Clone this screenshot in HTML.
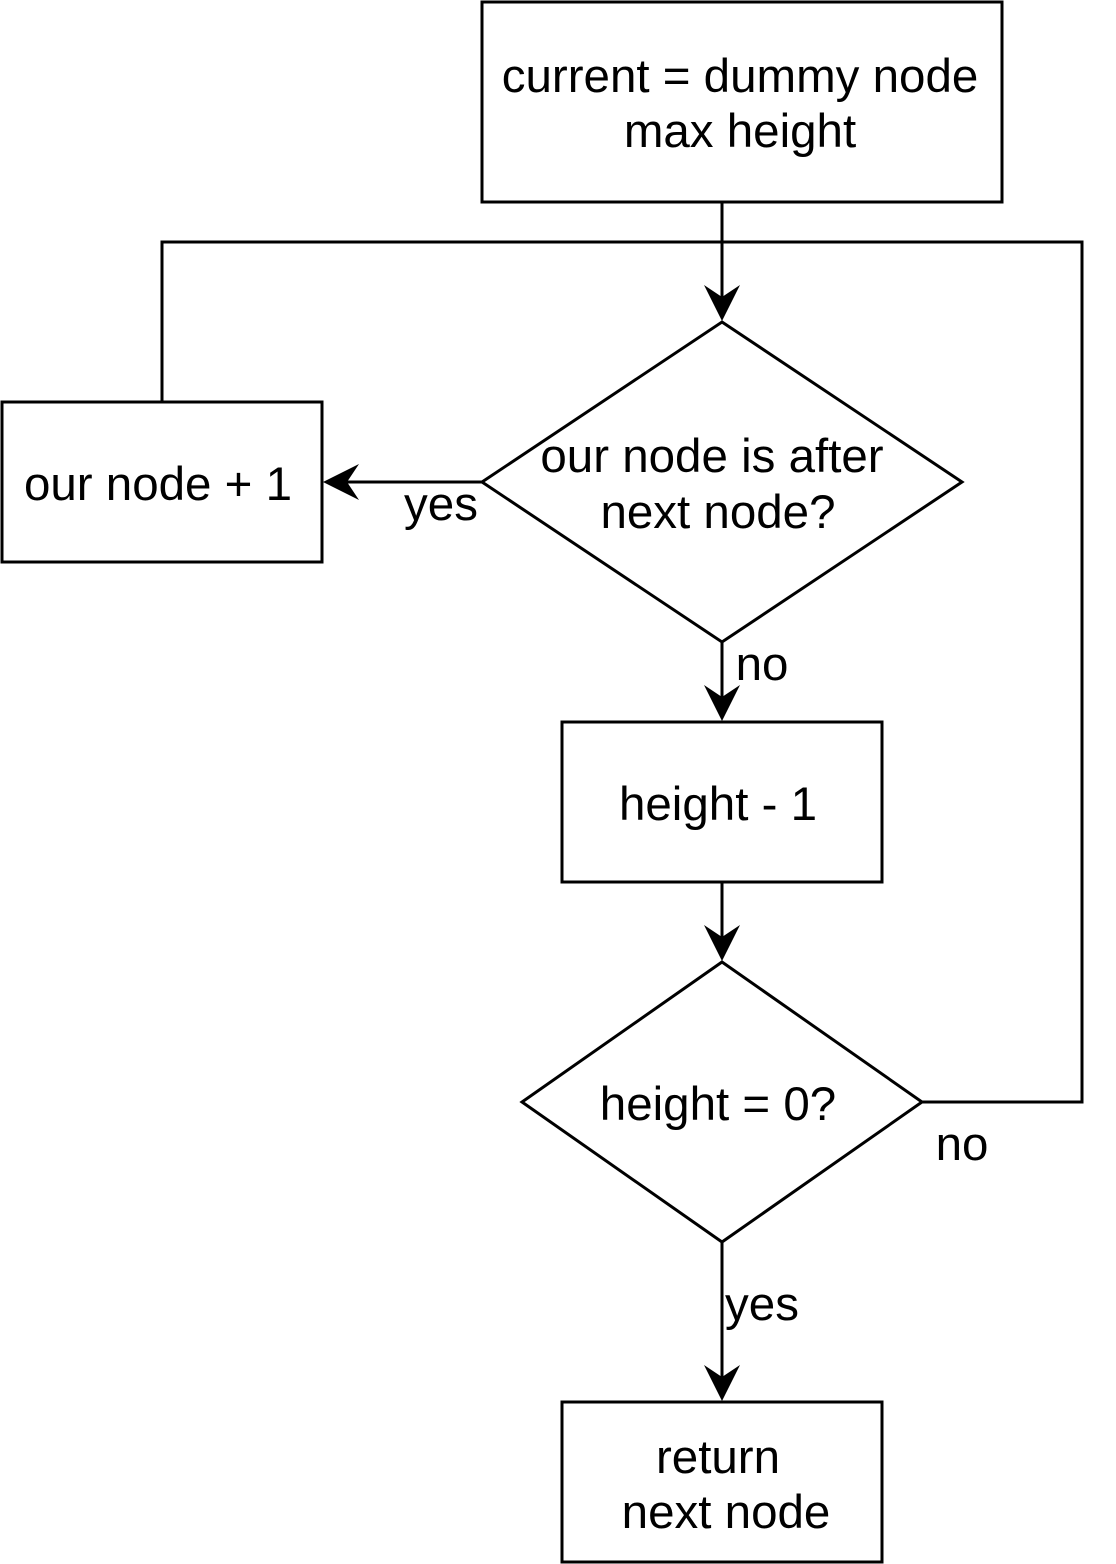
<!DOCTYPE html>
<html><head><meta charset="utf-8"><style>
html,body{margin:0;padding:0;background:#fff;}
svg{display:block;}
text{font-family:"Liberation Sans",Helvetica,Arial,sans-serif;font-size:47.5px;fill:#000;}
</style></head><body>
<svg width="1116" height="1564" viewBox="0 0 1116 1564" xmlns="http://www.w3.org/2000/svg">
<defs>
<path id="ah" d="M0,0 L-18,-36 L0,-24 L18,-36 Z" fill="#000"/>
</defs>
<g fill="none" stroke="#000" stroke-width="3">
<rect x="482" y="2" width="520" height="200" fill="#fff"/>
<rect x="2" y="402" width="320" height="160" fill="#fff"/>
<rect x="562" y="722" width="320" height="160" fill="#fff"/>
<rect x="562" y="1402" width="320" height="160" fill="#fff"/>
<polygon points="722,322 962,482 722,642 482,482" fill="#fff"/>
<polygon points="722,962 922,1102 722,1242 522,1102" fill="#fff"/>
<line x1="722" y1="202" x2="722" y2="300"/>
<polyline points="162,402 162,242 1082,242 1082,1102 922,1102"/>
<line x1="482" y1="482" x2="344" y2="482"/>
<line x1="722" y1="642" x2="722" y2="700"/>
<line x1="722" y1="882" x2="722" y2="940"/>
<line x1="722" y1="1242" x2="722" y2="1380"/>
</g>
<use href="#ah" transform="translate(722,321)"/>
<use href="#ah" transform="translate(722,721)"/>
<use href="#ah" transform="translate(722,961)"/>
<use href="#ah" transform="translate(722,1401)"/>
<use href="#ah" transform="translate(323,482) rotate(90)"/>
<g text-anchor="middle">
<text x="740" y="92">current = dummy node</text>
<text x="740" y="147">max height</text>
<text x="712" y="472">our node is after</text>
<text x="718" y="528">next node?</text>
<text x="158" y="500">our node + 1</text>
<text x="718" y="820">height - 1</text>
<text x="718" y="1120">height = 0?</text>
<text x="718" y="1473">return</text>
<text x="726" y="1528">next node</text>
<text x="441" y="520">yes</text>
<text x="762" y="680">no</text>
<text x="962" y="1160">no</text>
<text x="762" y="1320">yes</text>
</g>
</svg>
</body></html>
